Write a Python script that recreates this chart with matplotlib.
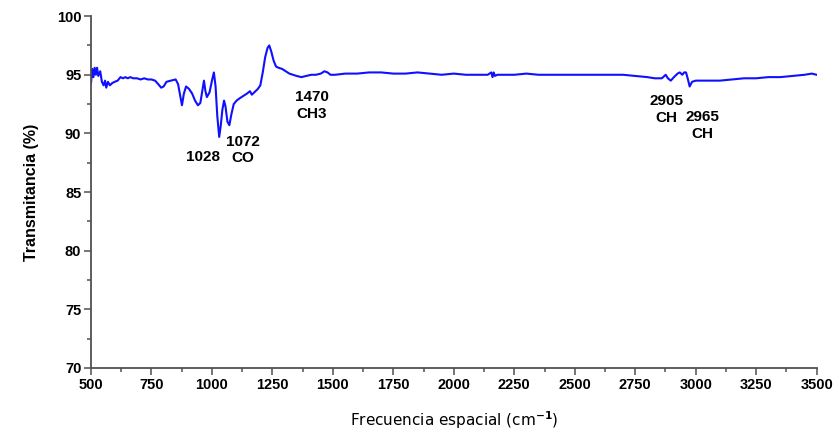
import matplotlib
matplotlib.use("Agg")
import matplotlib.pyplot as plt
from matplotlib.ticker import MultipleLocator

plt.rcParams['font.family'] = ['Liberation Sans', 'DejaVu Sans']

# FTIR spectrum
wavenumber = [
    500, 505, 510, 515, 520, 525, 530, 538, 545, 552, 558, 563, 570, 578, 588,
    598, 610, 622, 632, 642, 652, 662, 675, 690, 705, 720, 735, 750, 765, 778,
    790, 800, 812, 830, 850, 860, 868, 876, 884, 893, 905, 918, 930, 942, 952,
    960, 967, 973, 979, 990, 1000, 1008, 1015, 1022, 1030, 1036, 1043, 1050,
    1056, 1064, 1072, 1080, 1090, 1102, 1115, 1130, 1145, 1157, 1165, 1175,
    1190, 1200, 1210, 1220, 1230, 1237, 1245, 1255, 1265, 1275, 1290, 1305,
    1320, 1335, 1350, 1370, 1390, 1410, 1430, 1450, 1465, 1478, 1490, 1510,
    1550, 1600, 1650, 1700, 1750, 1800, 1850, 1900, 1950, 2000, 2050, 2100,
    2140, 2155, 2160, 2165, 2170, 2180, 2200, 2250, 2300, 2350, 2400, 2450,
    2500, 2550, 2600, 2650, 2700, 2750, 2800, 2830, 2860, 2876, 2885, 2897,
    2910, 2925, 2934, 2945, 2952, 2960, 2968, 2975, 2985, 3000, 3050, 3100,
    3150, 3200, 3250, 3300, 3350, 3400, 3450, 3480, 3500,
]
transmitancia = [
    94.3, 95.5, 94.8, 95.6, 95.0, 95.6, 94.9, 95.3, 94.4, 94.1, 94.5, 93.9,
    94.4, 94.1, 94.3, 94.4, 94.5, 94.8, 94.7, 94.8, 94.7, 94.8, 94.7, 94.7,
    94.6, 94.7, 94.6, 94.6, 94.5, 94.2, 93.9, 94.0, 94.4, 94.5, 94.6, 94.2,
    93.3, 92.4, 93.4, 94.0, 93.8, 93.4, 92.8, 92.4, 92.6, 93.6, 94.5, 93.6,
    93.1, 93.5, 94.5, 95.2, 94.0, 91.5, 89.7, 90.6, 92.0, 92.8, 92.3, 91.0,
    90.7, 91.6, 92.5, 92.8, 93.0, 93.2, 93.4, 93.6, 93.3, 93.5, 93.8, 94.1,
    95.2, 96.5, 97.3, 97.5, 97.0, 96.2, 95.7, 95.6, 95.5, 95.3, 95.1, 95.0,
    94.9, 94.8, 94.9, 95.0, 95.0, 95.1, 95.3, 95.2, 95.0, 95.0, 95.1, 95.1,
    95.2, 95.2, 95.1, 95.1, 95.2, 95.1, 95.0, 95.1, 95.0, 95.0, 95.0, 95.2,
    94.8, 95.2, 94.9, 95.0, 95.0, 95.0, 95.1, 95.0, 95.0, 95.0, 95.0, 95.0,
    95.0, 95.0, 95.0, 94.9, 94.8, 94.7, 94.7, 95.0, 94.7, 94.5, 94.8, 95.1,
    95.2, 95.0, 95.2, 95.2, 94.6, 94.0, 94.4, 94.5, 94.5, 94.5, 94.6, 94.7,
    94.7, 94.8, 94.8, 94.9, 95.0, 95.1, 95.0,
]

# peak labels
peak_text = ["1028", "1072\nCO", "1470\nCH3", "2905\nCH", "2965\nCH"]
peak_x = [963, 1128, 1413, 2880, 3029]
peak_y = [88.6, 89.9, 93.7, 93.35, 92.0]

fig = plt.figure(figsize=(8.35, 4.36), dpi=100)
ax = fig.add_axes([0.109, 0.156, 0.869, 0.807])

ax.plot(wavenumber, transmitancia, color='#1010ff', lw=1.5)

for t, x, y in zip(peak_text, peak_x, peak_y):
    ax.text(x, y, t, ha='center', va='top', fontsize=11, fontweight='bold',
            linespacing=1.25)

ax.set_xlim(500, 3500)
ax.set_ylim(70, 100)
ax.xaxis.set_major_locator(MultipleLocator(250))
ax.xaxis.set_minor_locator(MultipleLocator(125))
ax.yaxis.set_major_locator(MultipleLocator(5))
ax.yaxis.set_minor_locator(MultipleLocator(2.5))

for side in ['top', 'right']:
    ax.spines[side].set_visible(False)
for side in ['left', 'bottom']:
    ax.spines[side].set_color('#505050')
    ax.spines[side].set_linewidth(1.3)

ax.tick_params(which='both', direction='out', color='#505050', width=1.1)
ax.tick_params(which='major', length=5, labelsize=10.5, pad=2)
ax.tick_params(which='minor', length=3)
for lab in ax.get_xticklabels() + ax.get_yticklabels():
    lab.set_fontweight('bold')

ax.set_ylabel('Transmitancia (%)', fontsize=11.5, fontweight='bold', labelpad=13)
ax.set_xlabel('Frecuencia espacial (cm$^{\\mathbf{-1}}$)', fontsize=11,
              family=['DejaVu Sans'], labelpad=13)

fig.savefig('out.png', dpi=100)
